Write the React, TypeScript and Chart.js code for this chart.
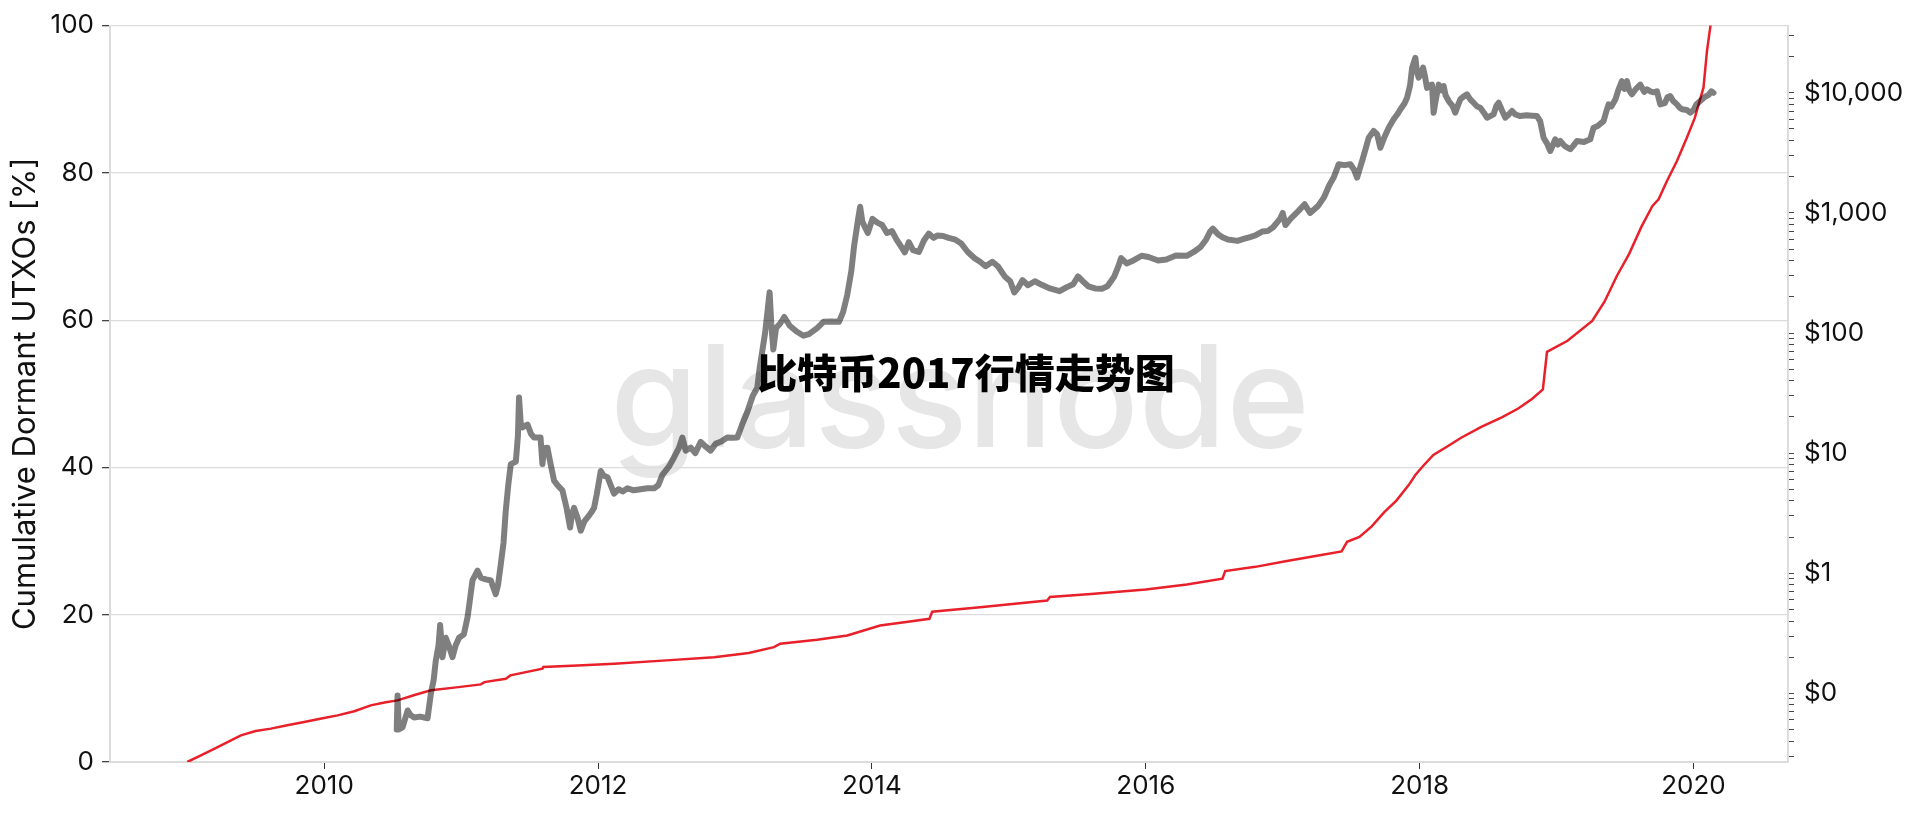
import React, { useEffect, useRef } from "react";
import { Chart, registerables } from "chart.js";

Chart.register(...registerables);

// ---- Data ----
const priceYears = [
  2010.53, 2010.536, 2010.545, 2010.572, 2010.61, 2010.63, 2010.657, 2010.7, 2010.755, 2010.779,
  2010.8, 2010.815, 2010.835, 2010.847, 2010.864, 2010.888, 2010.91, 2010.937, 2010.96, 2010.985,
  2011.02, 2011.047, 2011.06, 2011.083, 2011.12, 2011.144, 2011.18, 2011.217, 2011.253, 2011.27,
  2011.29, 2011.31, 2011.326, 2011.345, 2011.363, 2011.4, 2011.415, 2011.423, 2011.435, 2011.448,
  2011.485, 2011.51, 2011.533, 2011.58, 2011.594, 2011.605, 2011.63, 2011.65, 2011.679, 2011.71,
  2011.74, 2011.77, 2011.796, 2011.81, 2011.825, 2011.85, 2011.874, 2011.9, 2011.922, 2011.95,
  2011.971, 2011.99, 2012.02, 2012.04, 2012.069, 2012.09, 2012.117, 2012.15, 2012.18, 2012.215,
  2012.26, 2012.312, 2012.36, 2012.41, 2012.44, 2012.47, 2012.52, 2012.555, 2012.59, 2012.616,
  2012.64, 2012.677, 2012.71, 2012.75, 2012.78, 2012.822, 2012.86, 2012.9, 2012.944, 2012.98,
  2013.017, 2013.05, 2013.09, 2013.13, 2013.163, 2013.18, 2013.22, 2013.253, 2013.265, 2013.28,
  2013.3, 2013.33, 2013.36, 2013.4, 2013.45, 2013.5, 2013.54, 2013.6, 2013.646, 2013.7,
  2013.76, 2013.79, 2013.82, 2013.85, 2013.87, 2013.9, 2013.914, 2013.93, 2013.95, 2013.97,
  2014.004, 2014.04, 2014.075, 2014.11, 2014.147, 2014.18, 2014.21, 2014.24, 2014.27, 2014.3,
  2014.343, 2014.38, 2014.415, 2014.45, 2014.48, 2014.52, 2014.56, 2014.61, 2014.65, 2014.7,
  2014.75, 2014.79, 2014.83, 2014.88, 2014.92, 2014.97, 2015.01, 2015.04, 2015.07, 2015.1,
  2015.14, 2015.19, 2015.24, 2015.3, 2015.37, 2015.42, 2015.47, 2015.505, 2015.54, 2015.58,
  2015.63, 2015.68, 2015.72, 2015.77, 2015.8, 2015.82, 2015.86, 2015.91, 2015.97, 2016.02,
  2016.09, 2016.15, 2016.22, 2016.3, 2016.35, 2016.4, 2016.44, 2016.47, 2016.49, 2016.53,
  2016.56, 2016.6, 2016.67, 2016.72, 2016.756, 2016.8, 2016.85, 2016.89, 2016.93, 2016.98,
  2017.0, 2017.02, 2017.06, 2017.11, 2017.16, 2017.2, 2017.26, 2017.3, 2017.34, 2017.372,
  2017.409, 2017.45, 2017.494, 2017.52, 2017.543, 2017.58, 2017.605, 2017.628, 2017.664, 2017.69,
  2017.713, 2017.74, 2017.774, 2017.81, 2017.84, 2017.86, 2017.89, 2017.908, 2017.93, 2017.945,
  2017.969, 2017.98, 2017.993, 2018.01, 2018.025, 2018.04, 2018.054, 2018.07, 2018.09, 2018.102,
  2018.12, 2018.139, 2018.16, 2018.175, 2018.19, 2018.212, 2018.24, 2018.26, 2018.28, 2018.297,
  2018.32, 2018.346, 2018.37, 2018.394, 2018.42, 2018.443, 2018.47, 2018.492, 2018.515, 2018.54,
  2018.56, 2018.577, 2018.6, 2018.626, 2018.65, 2018.674, 2018.7, 2018.735, 2018.78, 2018.82,
  2018.857, 2018.88, 2018.905, 2018.93, 2018.954, 2018.97, 2018.99, 2019.01, 2019.027, 2019.06,
  2019.1, 2019.12, 2019.149, 2019.2, 2019.246, 2019.27, 2019.3, 2019.343, 2019.36, 2019.38,
  2019.4, 2019.43, 2019.45, 2019.477, 2019.495, 2019.514, 2019.53, 2019.55, 2019.58, 2019.611,
  2019.64, 2019.66, 2019.684, 2019.71, 2019.733, 2019.757, 2019.79, 2019.81, 2019.83, 2019.85,
  2019.879, 2019.9, 2019.916, 2019.95, 2019.976, 2020.0, 2020.02, 2020.049, 2020.08, 2020.11,
  2020.13, 2020.146,
];

const priceUsd = [
  0.05, 0.096, 0.05, 0.052, 0.072, 0.066, 0.063, 0.064, 0.062, 0.099,
  0.13, 0.187, 0.25, 0.37, 0.2, 0.29, 0.25, 0.2, 0.25, 0.29,
  0.31, 0.43, 0.55, 0.87, 1.05, 0.92, 0.89, 0.87, 0.67, 0.8,
  1.19, 1.8, 3.3, 5.5, 8.1, 8.5, 14, 29, 18, 16.4,
  17.3, 14.5, 13.5, 13.5, 8.1, 11, 11.1, 8.5, 5.9, 5.3,
  4.9, 3.5, 2.4, 3.1, 3.5, 2.9, 2.26, 2.7, 2.9, 3.2,
  3.5, 4.5, 7.1, 6.5, 6.3, 5.5, 4.6, 5.0, 4.8, 5.1,
  4.9, 5.0, 5.1, 5.1, 5.4, 6.6, 7.8, 9.2, 11, 13.5,
  10.5, 11.1, 10, 12.4, 11.5, 10.5, 12, 12.5, 13.5, 13.4,
  13.5, 17, 22, 30, 35, 51, 100, 218, 120, 73,
  110, 120, 136, 115, 103, 95, 98, 110, 124, 125,
  124, 150, 208, 330, 532, 900, 1127, 850, 757, 680,
  892, 830, 794, 680, 706, 600, 532, 470, 571, 490,
  473, 590, 673, 620, 650, 643, 620, 599, 560, 473,
  420, 392, 360, 392, 360, 296, 270, 218, 240, 276,
  250, 270, 252, 235, 223, 240, 255, 296, 270, 245,
  235, 234, 245, 296, 360, 421, 380, 402, 440, 430,
  402, 410, 442, 440, 473, 520, 599, 700, 740, 660,
  627, 600, 585, 610, 627, 650, 700, 706, 760, 892,
  1000, 794, 900, 1026, 1180, 1000, 1150, 1340, 1700, 1970,
  2540, 2500, 2540, 2300, 1970, 2710, 3400, 4230, 4810, 4500,
  3490, 4200, 5130, 6030, 6700, 7300, 8200, 9100, 11500, 16200,
  19600, 15000, 13400, 14500, 16200, 13500, 11000, 11500, 11700, 6830,
  9000, 11700, 10500, 11400, 9500, 8550, 7800, 6830, 7900, 8830,
  9300, 9720, 8800, 8280, 7700, 7520, 6800, 6210, 6400, 6620,
  7800, 8280, 7200, 6210, 6600, 7060, 6600, 6410, 6500, 6450,
  6410, 5820, 4230, 3800, 3280, 3600, 4100, 3700, 3970, 3600,
  3390, 3600, 3970, 3900, 4100, 5130, 5300, 5820, 6800, 8020,
  7700, 8830, 10500, 12500, 10800, 12500, 10500, 9720, 10800, 11700,
  10200, 10700, 10300, 10100, 10300, 8020, 8200, 9200, 9400, 8600,
  8020, 7500, 7300, 7200, 6830, 7200, 8000, 8550, 9200, 9600,
  10300, 10000,
];

const dormantYears = [
  2009.0, 2009.1, 2009.2, 2009.392, 2009.5, 2009.611, 2009.73, 2009.854, 2009.98, 2010.098,
  2010.22, 2010.34, 2010.45, 2010.536, 2010.66, 2010.78, 2010.95, 2011.144, 2011.17, 2011.326,
  2011.36, 2011.594, 2011.6, 2011.85, 2012.117, 2012.5, 2012.847, 2013.1, 2013.285, 2013.33,
  2013.6, 2013.82, 2014.06, 2014.25, 2014.42, 2014.44, 2014.79, 2015.28, 2015.3, 2015.6,
  2016.0, 2016.3, 2016.56, 2016.58, 2016.8, 2017.02, 2017.25, 2017.43, 2017.47, 2017.56,
  2017.65, 2017.74, 2017.83, 2017.92, 2017.97, 2018.025, 2018.1, 2018.19, 2018.3, 2018.45,
  2018.6, 2018.72, 2018.82, 2018.9, 2018.93, 2019.08, 2019.26, 2019.35, 2019.44, 2019.53,
  2019.62, 2019.7, 2019.745, 2019.806, 2019.879, 2019.952, 2020.01, 2020.073, 2020.098, 2020.123,
  2020.13,
];

const dormantPct = [
  0, 0.9, 1.8, 3.62, 4.2, 4.53, 5.0, 5.43, 5.9, 6.33,
  6.9, 7.69, 8.1, 8.37, 9.1, 9.73, 10.1, 10.54, 10.85, 11.31,
  11.76, 12.67, 12.89, 13.1, 13.35, 13.8, 14.24, 14.8, 15.6, 16.06,
  16.6, 17.19, 18.54, 19.0, 19.44, 20.4, 21.0, 21.93, 22.4, 22.8,
  23.43, 24.1, 24.9, 25.92, 26.5, 27.26, 28.0, 28.6, 29.9, 30.57,
  32.0, 33.9, 35.5, 37.6, 39.0, 40.2, 41.7, 42.7, 44.0, 45.5,
  46.8, 48.0, 49.3, 50.6, 55.7, 57.2, 59.9, 62.5, 66.0, 69.0,
  72.7, 75.5, 76.4, 78.9, 81.6, 84.8, 87.5, 91.6, 96.5, 99.9,
  101,
];

const yearTicks = [2010, 2012, 2014, 2016, 2018, 2020];
const pctTicks = [0, 20, 40, 60, 80, 100];
const priceLabelValues = [0.1, 1, 10, 100, 1000, 10000];
const priceLabels = ["$0", "$1", "$10", "$100", "$1,000", "$10,000"];
const priceDecades = [0.01, 0.1, 1, 10, 100, 1000, 10000];
const minorMultipliers = [1, 2, 3, 4, 5, 6, 7, 8, 9];

const yAxisTitle = "Cumulative Dormant UTXOs [%]";
const chartTitle = "比特币2017行情走势图";
const watermark = "glassnode";

export default function App() {
  const canvasRef = useRef<HTMLCanvasElement | null>(null);

  useEffect(() => {
    document.body.style.margin = "0";
    document.body.style.background = "#ffffff";
    const canvas = canvasRef.current;
    if (!canvas) return;

    const font = "Inter";
    const tickFont = { family: font, size: 26 };

    const priceTickList: number[] = [];
    priceDecades.forEach((d) =>
      minorMultipliers.forEach((m) => priceTickList.push(Math.round(d * m * 1000) / 1000))
    );

    const chart = new Chart(canvas, {
      type: "line",
      data: {
        datasets: [
          {
            label: "Price",
            data: priceYears.map((x, i) => ({ x, y: priceUsd[i] })),
            yAxisID: "y1",
            borderColor: "rgba(0,0,0,0.5)",
            borderWidth: 6,
            pointRadius: 0,
            tension: 0,
            borderJoinStyle: "round",
            borderCapStyle: "round",
          },
          {
            label: yAxisTitle,
            data: dormantYears.map((x, i) => ({ x, y: dormantPct[i] })),
            yAxisID: "y",
            borderColor: "#e8202a",
            borderWidth: 2.5,
            pointRadius: 0,
            tension: 0,
          },
        ],
      },
      options: {
        responsive: false,
        animation: false,
        devicePixelRatio: 1,
        layout: { padding: { top: 24, left: 0, right: 0, bottom: 0 } },
        plugins: {
          legend: { display: false },
          tooltip: { enabled: false },
          title: { display: false },
        },
        scales: {
          x: {
            type: "linear",
            min: 2008.436,
            max: 2020.69,
            afterBuildTicks: (s: any) => {
              s.ticks = yearTicks.map((v) => ({ value: v }));
            },
            afterFit: (s: any) => {
              s.height = 53;
            },
            ticks: {
              font: tickFont,
              color: "#111",
              padding: 2,
              autoSkip: false,
              maxRotation: 0,
              callback: (v: any) => String(v),
            },
            grid: {
              drawOnChartArea: false,
              drawTicks: true,
              tickLength: 7,
              tickColor: "#333",
            },
            border: { color: "#dcdcdc", width: 2 },
          },
          y: {
            type: "linear",
            position: "left",
            min: 0,
            max: 100,
            afterBuildTicks: (s: any) => {
              s.ticks = pctTicks.map((v) => ({ value: v }));
            },
            afterFit: (s: any) => {
              s.width = 110;
            },
            ticks: {
              font: tickFont,
              color: "#111",
              padding: 8,
              callback: (v: any) => String(v),
            },
            grid: {
              color: "#dcdcdc",
              lineWidth: 1.3,
              tickLength: 8,
              tickColor: "#444",
            },
            border: { color: "#dcdcdc", width: 2 },
            title: {
              display: true,
              text: yAxisTitle,
              font: { family: font, size: 31 },
              color: "#111",
              padding: { top: 7, bottom: 0 },
            },
          },
          y1: {
            type: "logarithmic",
            position: "right",
            min: 0.0268,
            max: 36300,
            afterBuildTicks: (s: any) => {
              s.ticks = priceTickList
                .filter((v) => v >= 0.0268 && v <= 36300)
                .map((v) => ({ value: v }));
            },
            afterFit: (s: any) => {
              s.width = 132;
            },
            ticks: {
              font: tickFont,
              color: "#111",
              padding: 10,
              autoSkip: false,
              callback: (v: any) => {
                const idx = priceLabelValues.findIndex((p) => Math.abs(p - v) < p * 1e-6);
                return idx >= 0 ? priceLabels[idx] : "";
              },
            },
            grid: {
              drawOnChartArea: false,
              tickLength: 6,
              tickColor: "#444",
            },
            border: { color: "#dcdcdc", width: 2 },
          },
        },
      },
    } as any);

    return () => chart.destroy();
  }, []);

  return (
    <div style={{ position: "relative", width: 1920, height: 815, background: "#fff", overflow: "hidden" }}>
      <div
        style={{
          position: "absolute",
          left: 0,
          top: 324,
          width: 1920,
          textAlign: "center",
          fontFamily: "Inter, sans-serif",
          fontSize: 142,
          lineHeight: 1,
          fontWeight: 500,
          color: "#e6e6e6",
          zIndex: 0,
          whiteSpace: "nowrap",
        }}
      >
        {watermark}
      </div>
      <canvas
        ref={canvasRef}
        width={1920}
        height={815}
        style={{ position: "absolute", left: 0, top: 0, width: 1920, height: 815, zIndex: 1, display: "block" }}
      />
      <div
        style={{
          position: "absolute",
          left: 6,
          top: 351,
          width: 1920,
          textAlign: "center",
          fontFamily: '"Noto Sans CJK SC", sans-serif',
          fontSize: 40,
          lineHeight: 1,
          fontWeight: 900,
          color: "#000",
          zIndex: 2,
          whiteSpace: "nowrap",
        }}
      >
        {chartTitle}
      </div>
    </div>
  );
}
